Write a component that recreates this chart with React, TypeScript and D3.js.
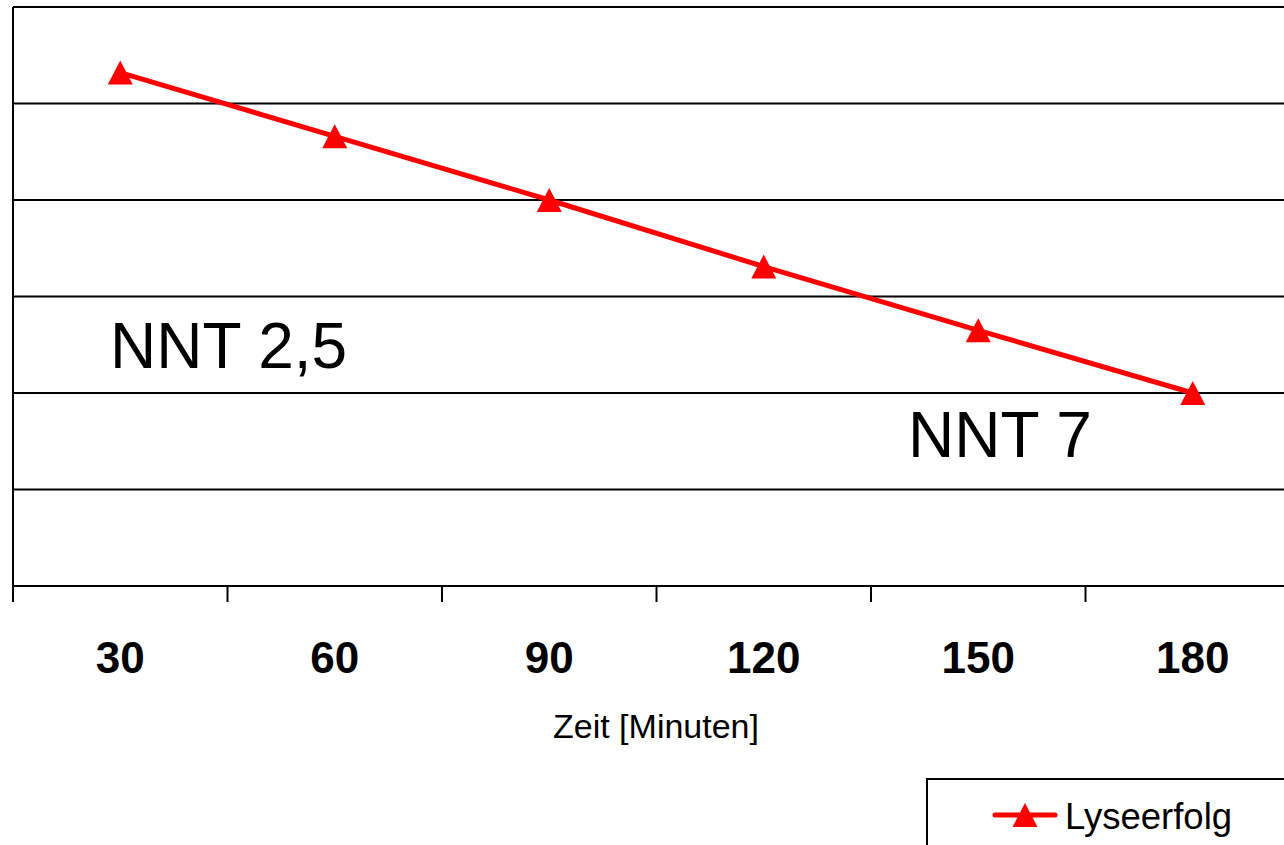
import React from "react";
import * as d3 from "d3";

const categories = ["30", "60", "90", "120", "150", "180"];
const lyseerfolg = [53.2, 46.6, 40.0, 33.1, 26.5, 20.0];
const yTicks = [0, 10, 20, 30, 40, 50, 60];
const seriesName = "Lyseerfolg";
const xTitle = "Zeit [Minuten]";
const annotations = [
  { text: "NNT 2,5", x: 110, y: 368 },
  { text: "NNT 7", x: 908, y: 457 },
];

const W = 1284;
const H = 845;
const left = 13;
const right = 1300;
const top = 7;
const bottom = 586;
const font = "'Liberation Sans', Arial, sans-serif";

function triPath(cxv: number, cyv: number) {
  const p = d3.path();
  p.moveTo(cxv, cyv - 12);
  p.lineTo(cxv + 12.5, cyv + 12);
  p.lineTo(cxv - 12.5, cyv + 12);
  p.closePath();
  return p.toString();
}

export default function App() {
  const x = d3.scaleBand<string>().domain(categories).range([left, right]).padding(0);
  const y = d3.scaleLinear().domain([0, 60]).range([bottom, top]);
  const cx = (c: string) => (x(c) as number) + x.bandwidth() / 2;
  const line = d3
    .line<number>()
    .x((_, i) => cx(categories[i]))
    .y((d) => y(d));
  const boundaries = categories.map((c) => x(c) as number).concat([right]);

  return (
    <svg
      width={W}
      height={H}
      style={{ position: "absolute", left: 0, top: 0, background: "#fff" }}
    >
      <rect x={0} y={0} width={W} height={H} fill="#fff" />
      {yTicks.map((t) => (
        <line key={t} x1={left} x2={right} y1={y(t)} y2={y(t)} stroke="#000" strokeWidth={2} />
      ))}
      <line x1={left} x2={left} y1={top} y2={bottom + 16} stroke="#000" strokeWidth={2} />
      {boundaries.map((b, i) => (
        <line key={i} x1={b} x2={b} y1={bottom} y2={bottom + 16} stroke="#000" strokeWidth={2} />
      ))}
      {categories.map((c) => (
        <text
          key={c}
          x={cx(c)}
          y={673}
          textAnchor="middle"
          fontFamily={font}
          fontWeight="bold"
          fontSize={44}
          fill="#000"
        >
          {c}
        </text>
      ))}
      <text x={656} y={738} textAnchor="middle" fontFamily={font} fontSize={34} fill="#000">
        {xTitle}
      </text>
      <path d={line(lyseerfolg) || ""} fill="none" stroke="#ff0000" strokeWidth={5} />
      {lyseerfolg.map((v, i) => (
        <path key={i} d={triPath(cx(categories[i]), y(v))} fill="#ff0000" />
      ))}
      {annotations.map((a) => (
        <text key={a.text} x={a.x} y={a.y} fontFamily={font} fontSize={64} fill="#000">
          {a.text}
        </text>
      ))}
      <rect x={927} y={779} width={400} height={100} fill="#fff" stroke="#000" strokeWidth={2} />
      <line x1={995} x2={1055} y1={815} y2={815} stroke="#ff0000" strokeWidth={5} strokeLinecap="round" />
      <path d={triPath(1025, 815)} fill="#ff0000" />
      <text x={1065} y={829} fontFamily={font} fontSize={36.5} fill="#000">
        {seriesName}
      </text>
    </svg>
  );
}
